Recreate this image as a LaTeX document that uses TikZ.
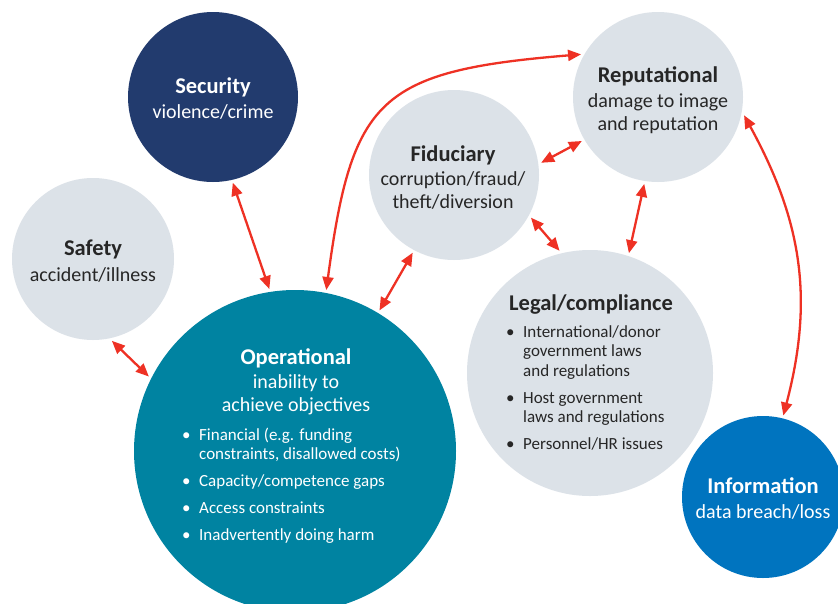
\documentclass[tikz,border=0pt]{standalone}
\usepackage{fontspec}
\setmainfont{Carlito}
\usetikzlibrary{arrows.meta}
\definecolor{navy}{HTML}{223B6E}
\definecolor{pale}{HTML}{DCE2E8}
\definecolor{teal}{HTML}{0083A1}
\definecolor{infoblue}{HTML}{0074BF}
\definecolor{arrred}{HTML}{EE3124}
\definecolor{darktxt}{HTML}{262626}
\newcommand{\bdot}{\makebox[17pt][l]{\textbullet}}
\newcommand{\sublines}[1]{\begin{tabular}[t]{@{}c@{}}#1\end{tabular}}
\newcommand{\blines}[1]{\begin{tabular}[t]{@{}l@{}l@{}}#1\end{tabular}}
\tikzset{
  bub/.style={circle, inner sep=0pt, outer sep=3pt, draw=none, minimum size=2*#1},
  ttl/.style={font=\fontsize{22.5}{26}\selectfont\bfseries, anchor=base, inner sep=0pt},
  subt/.style={font=\fontsize{20}{23.5}\selectfont, anchor=base, inner sep=0pt},
  blist/.style={font=\fontsize{17}{19.5}\selectfont, anchor=base west, inner sep=0pt},
  arr/.style={draw=arrred, line width=2.3pt, {Triangle[length=13pt,width=11pt]}-{Triangle[length=13pt,width=11pt]}}
}
\begin{document}
\begin{tikzpicture}[x=1pt,y=-1pt]
\useasboundingbox[fill=white] (0,0) rectangle (838,603);
% circles
\node[bub=85pt, fill=navy] (sec) at (213,97) {};
\node[bub=81pt, fill=pale] (saf) at (93,259) {};
\node[bub=161pt, fill=teal] (op) at (295,451) {};
\node[bub=85pt, fill=pale] (fid) at (454,175) {};
\node[bub=85pt, fill=pale] (rep) at (658,97) {};
\node[bub=123pt, fill=pale] (leg) at (590,373) {};
\node[bub=81pt, fill=infoblue] (info) at (763,497) {};
% texts
\node[ttl, text=white] (sect) at (213,93) {Security};
\node[subt, text=white] (secs) at (213,118) {violence/crime};
\node[ttl, text=darktxt] (saft) at (93,255) {Safety};
\node[subt, text=darktxt] (safs) at (93,281) {accident/illness};
\node[ttl, text=white] (opt) at (296,364) {Operational};
\node[subt, text=white] (ops) at (296,388) {\sublines{inability to\\achieve objectives}};
\node[blist, text=white] (opl) at (182,440) {\blines{%
\bdot & Financial (e.g. funding\\
 & constraints, disallowed costs)\\[7.5pt]
\bdot & Capacity/competence gaps\\[7.5pt]
\bdot & Access constraints\\[7.5pt]
\bdot & Inadvertently doing harm}};
\node[ttl, text=darktxt] (fidt) at (453,161) {Fiduciary};
\node[subt, text=darktxt] (fids) at (453,185) {\sublines{corruption/fraud/\\theft/diversion}};
\node[ttl, text=darktxt] (rept) at (658,82) {Reputational};
\node[subt, text=darktxt] (reps) at (658,107) {\sublines{damage to image\\and reputation}};
\node[ttl, text=darktxt] (legt) at (591,310) {Legal/compliance};
\node[blist, text=darktxt] (legl) at (506,337) {\blines{%
\bdot & International/donor\\
 & government laws\\
 & and regulations\\[7.5pt]
\bdot & Host government\\
 & laws and regulations\\[7.5pt]
\bdot & Personnel/HR issues}};
\node[ttl, text=white] (infot) at (763,493) {Information};
\node[subt, text=white] (infos) at (763,518) {data breach/loss};
% arrows
\draw[arr] (sec.283) -- (op.99.5);
\draw[arr] (saf.283.7) -- (op.153.3);
\draw[arr] (op.79.6) .. controls (352,99) and (378,71) .. (rep.151.5);
\draw[arr] (op.59.3) -- (fid.242);
\draw[arr] (fid.8.5) -- (rep.210.4);
\draw[arr] (fid.331.1) -- (leg.104.9);
\draw[arr] (rep.261.1) -- (leg.72.7);
\draw[arr] (rep.348.4) .. controls (802,221) and (814,299) .. (info.76.3);
\end{tikzpicture}
\end{document}
